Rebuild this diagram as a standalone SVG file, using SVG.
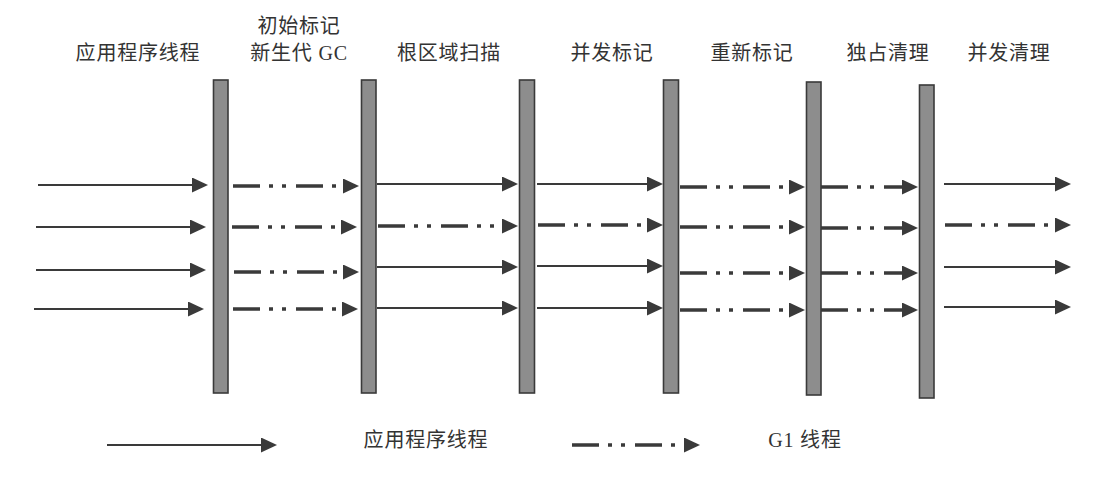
<svg xmlns="http://www.w3.org/2000/svg" width="1112" height="477" viewBox="0 0 1112 477">
<style>
.bar{fill:#8d8d8d;stroke:#3a3a3a;stroke-width:1.6}
.lbl{font-family:"Liberation Serif","Noto Sans CJK SC",serif;font-size:20px;fill:#333;letter-spacing:0.8px;text-anchor:middle}
.app{fill:none;stroke:#3a3a3a;stroke-width:2;marker-end:url(#ah)}
.g1{fill:none;stroke:#3a3a3a;stroke-width:3.5;stroke-dasharray:27 9 4 9 4 10;marker-end:url(#ah)}
</style>
<defs>
<marker id="ah" markerUnits="userSpaceOnUse" markerWidth="17" markerHeight="16" refX="1" refY="7.5" orient="auto">
<path d="M0,0 L16,7.5 L0,15 Z" fill="#3a3a3a"/>
</marker>
</defs>
<rect width="1112" height="477" fill="#fff"/>
<g id="labels">
<text class="lbl" x="138" y="60">应用程序线程</text>
<text class="lbl" x="299" y="33">初始标记</text>
<text class="lbl" x="299" y="60">新生代 GC</text>
<text class="lbl" x="449" y="60">根区域扫描</text>
<text class="lbl" x="612" y="60">并发标记</text>
<text class="lbl" x="752" y="60">重新标记</text>
<text class="lbl" x="888" y="60">独占清理</text>
<text class="lbl" x="1009" y="60">并发清理</text>
</g>
<g id="bar-initial-mark"><rect class="bar" x="213.5" y="80" width="14.5" height="313"/></g>
<g id="bar-root-scan"><rect class="bar" x="361.5" y="80" width="14.5" height="313"/></g>
<g id="bar-concurrent-mark"><rect class="bar" x="519.5" y="80" width="15" height="313"/></g>
<g id="bar-remark"><rect class="bar" x="663.5" y="80" width="15" height="313"/></g>
<g id="bar-exclusive-cleanup"><rect class="bar" x="806.5" y="82" width="14.5" height="313"/></g>
<g id="bar-concurrent-cleanup"><rect class="bar" x="919.5" y="85" width="14.5" height="313"/></g>
<g id="connectors">
<line class="app" x1="38" y1="185" x2="193" y2="185"/>
<line class="app" x1="36" y1="227" x2="191" y2="227"/>
<line class="app" x1="36" y1="270" x2="191" y2="270"/>
<line class="app" x1="34" y1="309" x2="189" y2="309"/>
<line class="g1" x1="233" y1="186" x2="344" y2="186"/>
<line class="g1" x1="232" y1="227" x2="342" y2="227"/>
<line class="g1" x1="234" y1="272" x2="344" y2="272"/>
<line class="g1" x1="233" y1="309" x2="343" y2="309"/>
<line class="app" x1="377" y1="184" x2="503" y2="184"/>
<line class="g1" x1="378" y1="226" x2="503" y2="226"/>
<line class="app" x1="377" y1="267" x2="503" y2="267"/>
<line class="app" x1="377" y1="308" x2="503" y2="308"/>
<line class="app" x1="537" y1="184" x2="648" y2="184"/>
<line class="g1" x1="538" y1="225" x2="648" y2="225"/>
<line class="app" x1="537" y1="266" x2="648" y2="266"/>
<line class="app" x1="537" y1="308" x2="648" y2="308"/>
<line class="g1" x1="680" y1="187" x2="790" y2="187"/>
<line class="g1" x1="680" y1="227" x2="790" y2="227"/>
<line class="g1" x1="680" y1="273" x2="790" y2="273"/>
<line class="g1" x1="680" y1="310" x2="790" y2="310"/>
<line class="g1" x1="821" y1="187" x2="903" y2="187"/>
<line class="g1" x1="821" y1="228" x2="903" y2="228"/>
<line class="g1" x1="821" y1="273" x2="903" y2="273"/>
<line class="g1" x1="821" y1="310" x2="903" y2="310"/>
<line class="app" x1="944" y1="184" x2="1056" y2="184"/>
<line class="g1" x1="945" y1="225" x2="1056" y2="225"/>
<line class="app" x1="944" y1="267" x2="1056" y2="267"/>
<line class="app" x1="944" y1="307" x2="1056" y2="307"/>
</g>
<g id="legend">
<line class="app" x1="107" y1="445" x2="262" y2="445"/>
<text class="lbl" x="426" y="447">应用程序线程</text>
<line class="g1" x1="572" y1="445" x2="685" y2="445"/>
<text class="lbl" x="805" y="447">G1 线程</text>
</g>
</svg>
